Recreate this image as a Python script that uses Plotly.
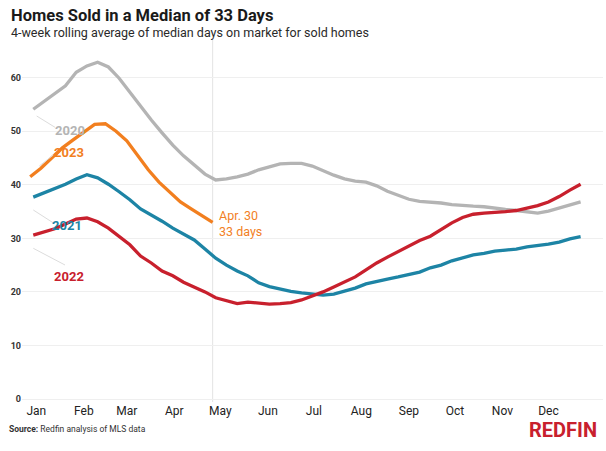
import plotly.graph_objects as go
import pandas as pd

# ---------------- data ----------------
week_dates = pd.date_range("2023-01-03", periods=52, freq="7D")   # common calendar (seasonal axis)
week_dates_2023 = pd.date_range("2023-01-01", "2023-04-30", freq="7D")

y2020 = [54.1, 55.6, 57.0, 58.5, 61.0, 62.2, 62.9, 62.0, 59.9, 57.3, 54.5, 52.1, 49.7, 47.4,
         45.4, 43.7, 42.0, 40.9, 41.1, 41.5, 42.0, 42.8, 43.3, 43.9, 44.0, 44.0, 43.5, 42.6,
         41.8, 41.1, 40.7, 40.5, 39.8, 38.8, 38.1, 37.3, 36.9, 36.8, 36.6, 36.3, 36.1, 36.0,
         35.9, 35.6, 35.4, 35.2, 35.0, 34.7, 35.1, 35.7, 36.2, 36.8]
y2021 = [37.7, 38.5, 39.3, 40.1, 41.1, 41.9, 41.3, 40.1, 38.7, 37.2, 35.5, 34.4, 33.2, 31.9,
         30.8, 29.7, 28.0, 26.3, 25.0, 23.9, 23.0, 21.7, 21.0, 20.5, 20.1, 19.8, 19.6, 19.4,
         19.6, 20.2, 20.7, 21.5, 22.0, 22.4, 22.8, 23.3, 23.7, 24.5, 25.0, 25.8, 26.3, 26.9,
         27.2, 27.6, 27.8, 28.0, 28.4, 28.6, 28.9, 29.3, 29.9, 30.3]
y2022 = [30.6, 31.2, 31.8, 32.7, 33.6, 33.8, 33.1, 31.9, 30.3, 28.8, 26.7, 25.4, 23.9, 23.0,
         21.8, 20.9, 20.0, 18.9, 18.3, 17.8, 18.1, 17.9, 17.7, 17.8, 18.0, 18.5, 19.2, 20.0,
         20.9, 21.8, 22.8, 24.1, 25.4, 26.5, 27.5, 28.6, 29.6, 30.4, 31.6, 32.9, 33.9, 34.5,
         34.7, 34.8, 35.0, 35.2, 35.7, 36.1, 36.8, 37.8, 39.0, 40.1]
y2023 = [41.5, 43.1, 45.0, 46.9, 48.4, 49.9, 51.3, 51.4, 50.0, 48.2, 45.6, 42.8, 40.5, 38.7,
         36.8, 35.5, 34.3, 33.0]

series_names = ["2020", "2021", "2022", "2023"]
series_colors = {"2020": "#b4b4b4", "2021": "#1d84a5", "2022": "#c8202d", "2023": "#f27f1f"}
month_labels = ["Jan", "Feb", "Mar", "Apr", "May", "Jun", "Jul", "Aug", "Sep", "Oct", "Nov", "Dec"]
y_ticks = [0, 10, 20, 30, 40, 50, 60]

title = "Homes Sold in a Median of 33 Days"
subtitle = "4-week rolling average of median days on market for sold homes"
source = "<b>Source:</b> Redfin analysis of MLS data"
end_note = "Apr. 30<br>33 days"

# ---------------- layout geometry ----------------
W, H = 606, 451
L, R, T, B = 22, 603, 40, 402


def pp(x, y):
    """pixel -> paper coordinates"""
    return (x - L) / (R - L), (B - y) / (B - T)


base = pd.Timestamp("2023-01-01")
x_range = [(base + pd.Timedelta(days=-5.35)).isoformat(), (base + pd.Timedelta(days=373.6)).isoformat()]
month_starts = pd.date_range("2023-01-01", periods=12, freq="MS")
tick_pos = [(d + pd.Timedelta(days=4)).isoformat() for d in month_starts]

fig = go.Figure()
data = {"2020": (week_dates, y2020), "2021": (week_dates, y2021),
        "2022": (week_dates, y2022), "2023": (week_dates_2023, y2023)}
for name in ["2020", "2021", "2022", "2023"]:
    xs, ys = data[name]
    fig.add_trace(go.Scatter(x=xs, y=ys, mode="lines", name=name,
                             line=dict(color=series_colors[name], width=3.3),
                             showlegend=False, hoverinfo="x+y"))

shapes = []
# Apr 30 reference line
shapes.append(dict(type="line", xref="x", yref="paper", x0="2023-04-30", x1="2023-04-30",
                   y0=0, y1=1, line=dict(color="#e4e4e4", width=1), layer="below"))
# leader lines for series labels
leaders = [((36.7, 116), (55, 127.3)), ((39.3, 166), (53.3, 155)),
           ((33.3, 210), (53, 222.7)), ((33.3, 248.3), (65, 265))]
for (a, b) in leaders:
    x0, y0 = pp(*a)
    x1, y1 = pp(*b)
    shapes.append(dict(type="line", xref="paper", yref="paper", x0=x0, y0=y0, x1=x1, y1=y1,
                       line=dict(color="#dcdcdc", width=1)))

annotations = []


def txt(text, x, y, size, color, xanchor="left", bold=False, family="Roboto", align="left"):
    px_, py_ = pp(x, y)
    annotations.append(dict(text=text, x=px_, y=py_, xref="paper", yref="paper", showarrow=False,
                            xanchor=xanchor, yanchor="middle", align=align,
                            font=dict(size=size, color=color, family=family,
                                      weight="bold" if bold else "normal")))


txt(title, 9, 15, 16.5, "#1a1a1a", bold=True)
txt(subtitle, 9, 32, 12.5, "#2a2a2a")
txt(source, 7, 429, 8.5, "#333333")
txt("REDFIN", 563, 430, 20, "#c8202d", xanchor="center", bold=True)
txt(end_note, 217, 223, 12.5, "#f27f1f", bold=False)

label_pos = {"2020": (70, 130.7), "2023": (69.3, 152.7), "2021": (66.7, 225), "2022": (69.3, 276.7)}
for name, (lx, ly) in label_pos.items():
    txt(name, lx, ly, 13, series_colors[name], xanchor="center", bold=True)

fig.update_layout(
    width=W, height=H,
    margin=dict(l=L, r=W - R, t=T, b=H - B),
    paper_bgcolor="white", plot_bgcolor="white",
    shapes=shapes, annotations=annotations,
    font=dict(family="Roboto", color="#222"),
    xaxis=dict(type="date", range=x_range, tickvals=tick_pos, ticktext=month_labels,
               showgrid=False, zeroline=False, showline=False, ticks="",
               tickfont=dict(size=12, color="#222222", family="Roboto")),
    yaxis=dict(range=[-0.56, 67.04], tickvals=y_ticks, showgrid=True, gridcolor="#efefef",
               gridwidth=1, zeroline=False, showline=False, ticks="",
               tickfont=dict(size=9, color="#333333", family="Roboto", weight="bold")),
)

fig.write_html("out.html", config={"displayModeBar": False},
               post_script="document.body.style.margin='0';document.body.style.overflow='hidden';")
